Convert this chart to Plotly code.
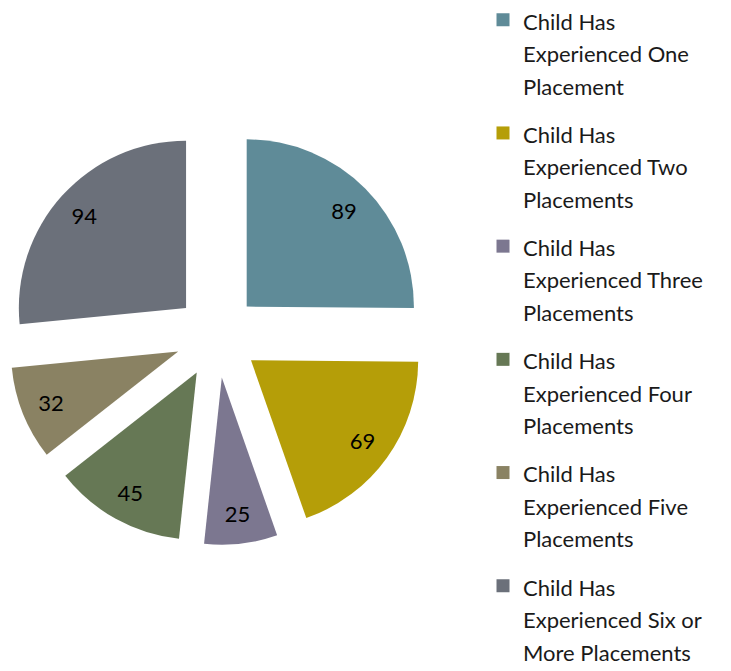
import plotly.graph_objects as go

# Placement counts per child
labels = [
    "Child Has Experienced One Placement",
    "Child Has Experienced Two Placements",
    "Child Has Experienced Three Placements",
    "Child Has Experienced Four Placements",
    "Child Has Experienced Five Placements",
    "Child Has Experienced Six or More Placements",
]
legend_lines = [
    ["Child Has", "Experienced One", "Placement"],
    ["Child Has", "Experienced Two", "Placements"],
    ["Child Has", "Experienced Three", "Placements"],
    ["Child Has", "Experienced Four", "Placements"],
    ["Child Has", "Experienced Five", "Placements"],
    ["Child Has", "Experienced Six or", "More Placements"],
]
values = [89, 69, 25, 45, 32, 94]
colors = ["#5F8B98", "#B59E08", "#7C7790", "#667855", "#8A8263", "#6B707A"]

FONT = "Lato"
W, H = 731, 671
pie_domain = dict(x=[0 / W, 418 / W], y=[(H - 537) / H, (H - 119) / H])

fig = go.Figure()

# coloured slices
fig.add_trace(go.Pie(
    labels=labels, values=values, sort=False, direction="clockwise", rotation=0,
    pull=[0.25] * len(values),
    marker=dict(colors=colors, line=dict(width=0)),
    textinfo="none",
    domain=pie_domain, showlegend=False,
))

# transparent donut on top only to place the value labels further out
fig.add_trace(go.Pie(
    labels=labels, values=values, sort=False, direction="clockwise", rotation=0,
    pull=[0.25] * len(values), hole=0.64,
    marker=dict(colors=["rgba(0,0,0,0)"] * len(values), line=dict(width=0)),
    textinfo="value", textposition="inside", insidetextorientation="horizontal",
    textfont=dict(family=FONT, size=22, color="black"),
    domain=pie_domain, showlegend=False, hoverinfo="skip",
))

# legend entries drawn as empty square-marker traces so groups can be spaced
for i, (lines, c) in enumerate(zip(legend_lines, colors)):
    name = "<br>".join(f'<span style="font-size:22px">{ln}</span>' for ln in lines)
    fig.add_trace(go.Scatter(
        x=[None], y=[None], mode="markers", name=name, legendgroup=f"g{i}",
        marker=dict(symbol="square", size=13, color=c),
    ))

fig.update_layout(
    width=W, height=H,
    margin=dict(l=0, r=0, t=0, b=0, autoexpand=False),
    paper_bgcolor="white", plot_bgcolor="white",
    xaxis=dict(visible=False), yaxis=dict(visible=False),
    legend=dict(
        x=(515 - 40) / W, xanchor="left", y=1 + 11 / H, yanchor="top",
        font=dict(family=FONT, size=25, color="#1a1a1a"),
        tracegroupgap=12.7, itemwidth=30, valign="top", maxheight=1000,
    ),
)

fig.write_html("out.html")
